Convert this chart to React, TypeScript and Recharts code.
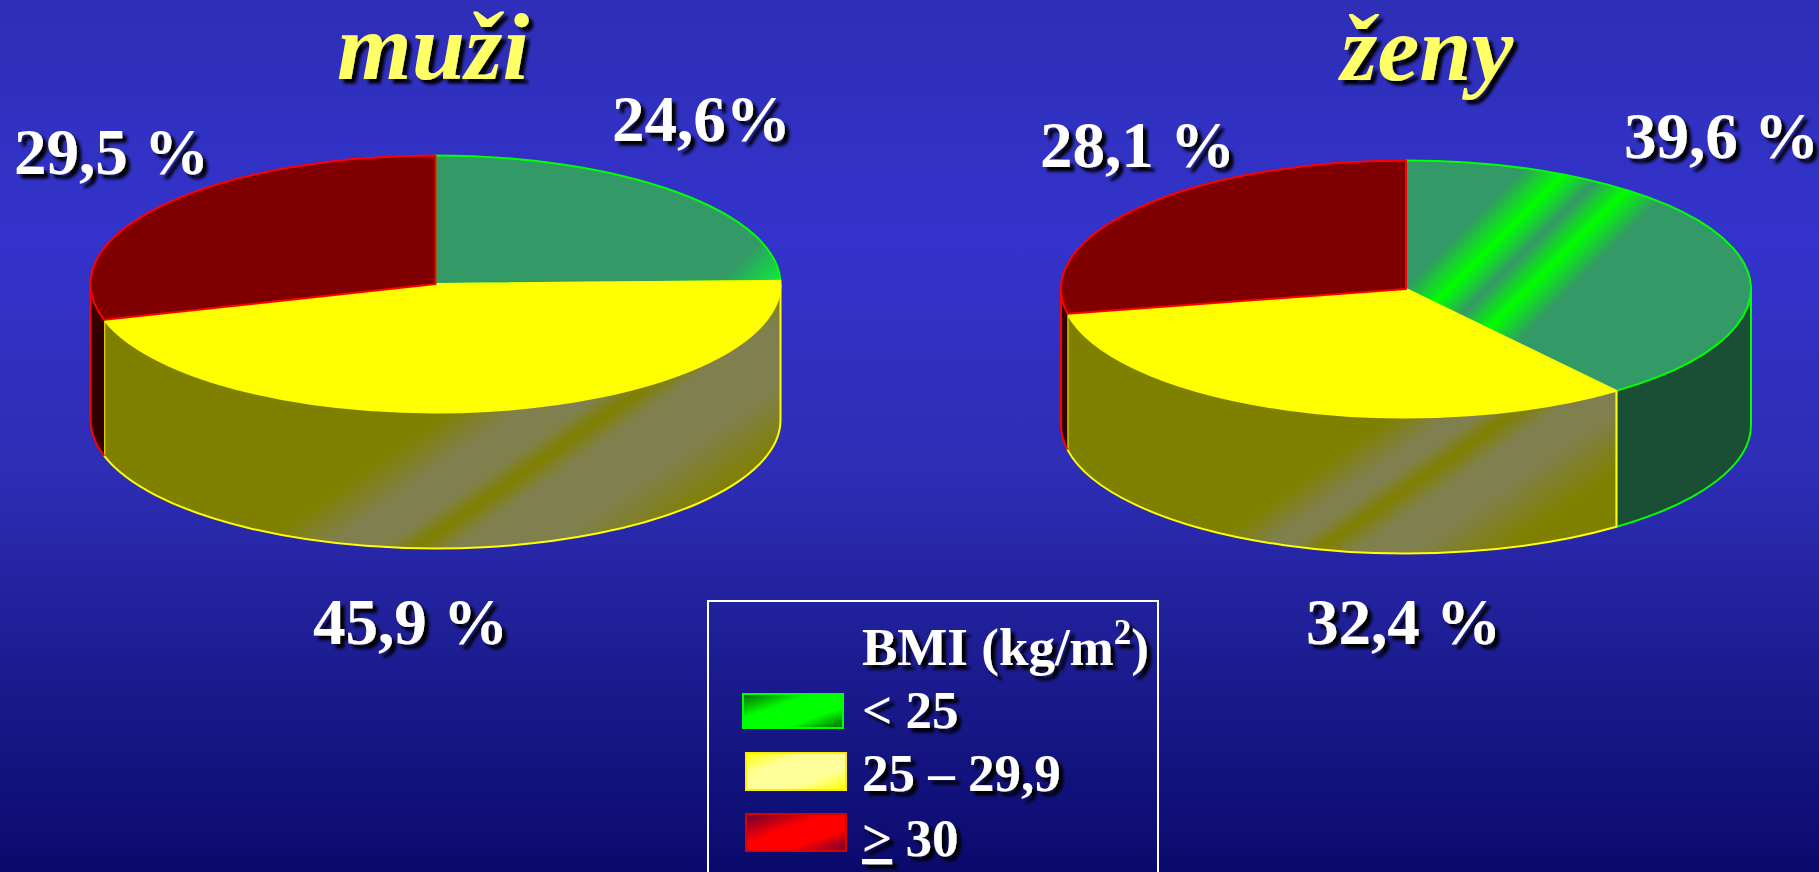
import React from "react";
import { PieChart, Pie } from "recharts";

const W = 1819;
const H = 872;

const BMI_CLASSES = ["< 25", "25 – 29,9", "> 30"];
const MEN_VALUES = [24.6, 45.9, 29.5];
const WOMEN_VALUES = [39.6, 32.4, 28.1];
const MEN_LABELS = ["24,6%", "45,9 %", "29,5 %"];
const WOMEN_LABELS = ["39,6 %", "32,4 %", "28,1 %"];
const MEN_TITLE = "muži";
const WOMEN_TITLE = "ženy";
const LEGEND_TITLE = "BMI (kg/m";

const menRows = MEN_VALUES.map((value, i) => ({ name: BMI_CLASSES[i], value, label: MEN_LABELS[i] }));
const womenRows = WOMEN_VALUES.map((value, i) => ({ name: BMI_CLASSES[i], value, label: WOMEN_LABELS[i] }));

// layout
const MEN_LABEL_POS = [[612, 141], [313, 644], [14, 174]];
const WOMEN_LABEL_POS = [[1624, 158], [1306, 644], [1040, 167]];
const RX = 345;
const RY = 128.5;
const DEPTH = 136;
const STROKES = ["#00ff00", "#ffff00", "#ff0000"];
const SIDE_SOLID = ["#1a4f35", "", "#330000"];
const SERIF = "'Liberation Serif', 'Times New Roman', serif";

const rad = (d: number) => (d * Math.PI) / 180;

function makeShape(prefix: string) {
  return function Slice3D(props: any) {
    const { cx, cy, startAngle, endAngle, index } = props;
    const pt = (a: number, dy = 0) => [cx + RX * Math.cos(rad(a)), cy - RY * Math.sin(rad(a)) + dy];
    const [sx, sy] = pt(startAngle);
    const [ex, ey] = pt(endAngle);
    const large = Math.abs(startAngle - endAngle) > 180 ? 1 : 0;
    const top = `M${cx},${cy}L${sx},${sy}A${RX},${RY} 0 ${large} 1 ${ex},${ey}Z`;
    const hi = Math.min(startAngle, 0);
    const lo = Math.max(endAngle, -180);
    let wallFill: string | null = null;
    let wallLine: string | null = null;
    if (hi > lo) {
      const [ax, ay] = pt(hi);
      const [bx, by] = pt(lo);
      const [cx2, cy2] = pt(lo, DEPTH);
      const [dx2, dy2] = pt(hi, DEPTH);
      wallFill = `M${ax},${ay}A${RX},${RY} 0 0 1 ${bx},${by}L${cx2},${cy2}A${RX},${RY} 0 0 0 ${dx2},${dy2}Z`;
      const startEdge = index === 2 ? `M${dx2},${dy2}` : `M${ax},${ay}L${dx2},${dy2}`;
      wallLine = `${startEdge}A${RX},${RY} 0 0 1 ${cx2},${cy2}L${bx},${by}`;
    }
    const stroke = STROKES[index];
    const sideFill = index === 1 ? `url(#${prefix}-side)` : SIDE_SOLID[index];
    const topFill = index === 0 ? `url(#${prefix}-top)` : index === 1 ? "#ffff00" : "#800000";
    return (
      <g>
        {wallFill && <path d={wallFill} fill={sideFill} stroke="none" />}
        {wallLine && <path d={wallLine} fill="none" stroke={stroke} strokeWidth={2} strokeLinejoin="round" />}
        <path d={top} fill={topFill} stroke={stroke} strokeWidth={2} strokeLinejoin="round" />
      </g>
    );
  };
}

function makeLabel(positions: number[][], labels: string[]) {
  return function SliceLabel(props: any) {
    const i = props.index;
    const [x, y] = positions[i];
    return (
      <text x={x} y={y} fontFamily={SERIF} fontWeight="bold" fontSize={65} fill="#ffffff" textAnchor="start" filter="url(#shadow)">
        {labels[i]}
      </text>
    );
  };
}

// top bands: s = x + y, offset = s / 2400
const stop = (s: number, color: string) => <stop key={s} offset={s / 2400} stopColor={color} />;
const diag = { gradientUnits: "userSpaceOnUse" as const, x1: 0, y1: 0, x2: 1200, y2: 1200 };
// side bands: s = 0.7x + y, offset = s / 2400
const SIDE_A = 0.7;
const SIDE_K = 2400 / (SIDE_A * SIDE_A + 1);
const diagSide = { gradientUnits: "userSpaceOnUse" as const, x1: 0, y1: 0, x2: SIDE_K * SIDE_A, y2: SIDE_K };

const LEGEND_SWATCHES = [
  { x: 743, y: 694, w: 100, h: 34, stroke: "#00ff00", id: "lg-green" },
  { x: 746, y: 753, w: 100, h: 37, stroke: "#ffee00", id: "lg-yellow" },
  { x: 746, y: 814, w: 100, h: 37, stroke: "#dd0000", id: "lg-red" },
];
const LEGEND_BASELINES = [728, 791, 856];

export default function App() {
  return (
    <div
      style={{
        position: "absolute",
        left: 0,
        top: 0,
        width: W,
        height: H,
        overflow: "hidden",
        background:
          "linear-gradient(180deg, #2e2eb8 0px, #3333cc 240px, #2d2db4 480px, #1e1e96 640px, #0a0a6c 872px)",
      }}
    >
      <PieChart width={W} height={H} margin={{ top: 0, right: 0, bottom: 0, left: 0 }}>
        <defs>
          <filter id="shadow" x="-10%" y="-10%" width="125%" height="130%">
            <feDropShadow dx={4.5} dy={4.5} stdDeviation={1.5} floodColor="#000000" floodOpacity={1} />
          </filter>
          <linearGradient id="men-top" {...diag}>
            {stop(1000, "#339966")}
            {stop(1075, "#00ff33")}
          </linearGradient>
          <linearGradient id="women-top" {...diag}>
            {stop(1693, "#339966")}
            {stop(1738, "#00ff00")}
            {stop(1777, "#339966")}
            {stop(1817, "#00ff00")}
            {stop(1860, "#339966")}
          </linearGradient>
          <linearGradient id="men-side" {...diagSide}>
            {stop(725, "#808000")}
            {stop(775, "#80804f")}
            {stop(815, "#80804f")}
            {stop(839, "#808000")}
            {stop(865, "#80804f")}
            {stop(930, "#80804f")}
            {stop(1000, "#808000")}
          </linearGradient>
          <linearGradient id="women-side" {...diagSide}>
            {stop(1392, "#808000")}
            {stop(1432, "#80804f")}
            {stop(1450, "#80804f")}
            {stop(1473, "#808000")}
            {stop(1500, "#80804f")}
            {stop(1540, "#80804f")}
            {stop(1604, "#808000")}
          </linearGradient>
          <linearGradient id="lg-green" x1="0" y1="0" x2="1" y2="1">
            <stop offset="0" stopColor="#006600" />
            <stop offset="0.35" stopColor="#00ff00" />
            <stop offset="0.7" stopColor="#00ff00" />
            <stop offset="1" stopColor="#006600" />
          </linearGradient>
          <linearGradient id="lg-yellow" x1="0" y1="0" x2="1" y2="1">
            <stop offset="0" stopColor="#ffff00" />
            <stop offset="0.3" stopColor="#ffff99" />
            <stop offset="0.7" stopColor="#ffff99" />
            <stop offset="1" stopColor="#ffff00" />
          </linearGradient>
          <linearGradient id="lg-red" x1="0" y1="0" x2="1" y2="1">
            <stop offset="0" stopColor="#660033" />
            <stop offset="0.4" stopColor="#ff0000" />
            <stop offset="0.7" stopColor="#ff0000" />
            <stop offset="1" stopColor="#660033" />
          </linearGradient>
        </defs>

        <Pie
          data={menRows}
          dataKey="value"
          nameKey="name"
          cx={435.5}
          cy={284}
          innerRadius={0}
          outerRadius={RX}
          startAngle={90}
          endAngle={-270}
          paddingAngle={0}
          isAnimationActive={false}
          shape={makeShape("men")}
          label={makeLabel(MEN_LABEL_POS, MEN_LABELS)}
          labelLine={false}
        />
        <Pie
          data={womenRows}
          dataKey="value"
          nameKey="name"
          cx={1406}
          cy={289}
          innerRadius={0}
          outerRadius={RX}
          startAngle={90}
          endAngle={-270}
          paddingAngle={0}
          isAnimationActive={false}
          shape={makeShape("women")}
          label={makeLabel(WOMEN_LABEL_POS, WOMEN_LABELS)}
          labelLine={false}
        />

        <text x={433} y={79} textAnchor="middle" fontFamily={SERIF} fontWeight="bold" fontStyle="italic" fontSize={96} fill="#ffff66" filter="url(#shadow)">
          {MEN_TITLE}
        </text>
        <text x={1427} y={80} textAnchor="middle" fontFamily={SERIF} fontWeight="bold" fontStyle="italic" fontSize={94} fill="#ffff66" filter="url(#shadow)">
          {WOMEN_TITLE}
        </text>

        <rect x={708} y={601} width={450} height={290} fill="none" stroke="#ffffff" strokeWidth={2} />
        <text x={862} y={665} fontFamily={SERIF} fontWeight="bold" fontSize={53} fill="#ffffff" filter="url(#shadow)">
          {LEGEND_TITLE}
          <tspan fontSize={35} dy={-21}>2</tspan>
          <tspan dy={21}>)</tspan>
        </text>
        {LEGEND_SWATCHES.map((s) => (
          <rect key={s.id} x={s.x} y={s.y} width={s.w} height={s.h} fill={`url(#${s.id})`} stroke={s.stroke} strokeWidth={2} />
        ))}
        {BMI_CLASSES.map((c, i) =>
          i === 2 ? (
            <text key={c} x={862} y={LEGEND_BASELINES[i]} fontFamily={SERIF} fontWeight="bold" fontSize={53} fill="#ffffff" filter="url(#shadow)">
              <tspan textDecoration="underline">{c.slice(0, 1)}</tspan>
              {c.slice(1)}
            </text>
          ) : (
            <text key={c} x={862} y={LEGEND_BASELINES[i]} fontFamily={SERIF} fontWeight="bold" fontSize={53} fill="#ffffff" filter="url(#shadow)">
              {c}
            </text>
          )
        )}
      </PieChart>
    </div>
  );
}
